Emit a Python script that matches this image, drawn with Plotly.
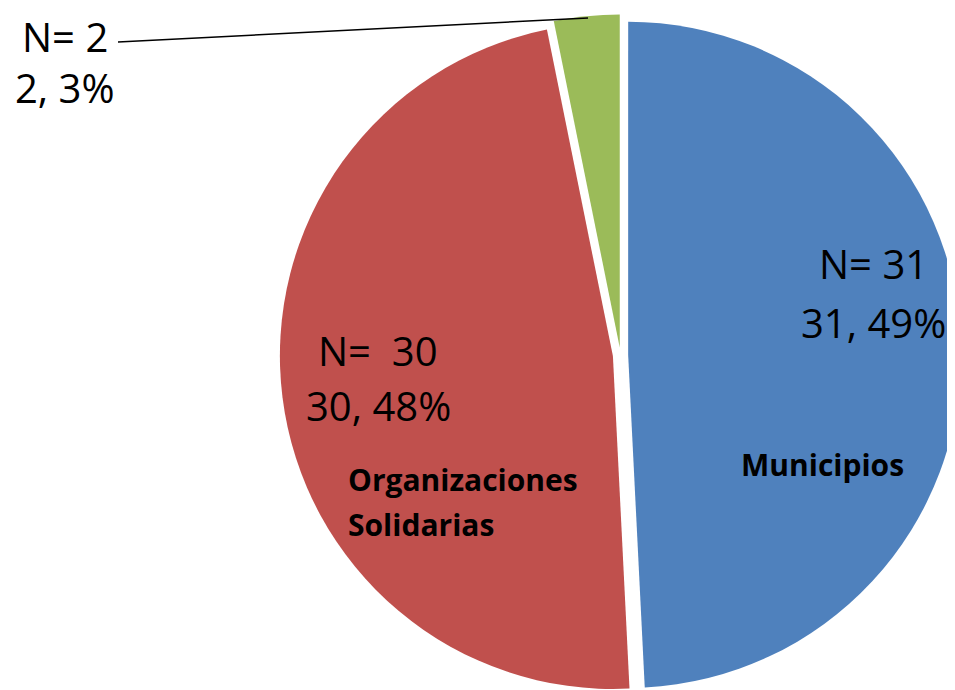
import plotly.graph_objects as go

categories = ["Municipios", "Organizaciones Solidarias", "Otros"]
values = [31, 30, 2]
colors = ["#4F81BD", "#C0504D", "#9BBB59"]
n_text = ["N= 31", "N=  30", "N= 2"]
value_text = ["31, 49%", "30, 48%", "2, 3%"]

# page body has an 8px default margin; figure is drawn from (8, 8)
OFF = 8
FW, FH = 980, 700

def px(x):
    return (x - OFF) / FW

def py(y):
    return 1 - (y - OFF) / FH

# pie geometry in screen pixels
cx, cy, r, pull = 620.5, 355.0, 333.0, 0.023
half = r * (1 + pull)

fig = go.Figure()
fig.add_trace(go.Pie(
    labels=categories,
    values=values,
    marker=dict(colors=colors, line=dict(width=0)),
    sort=False,
    direction="clockwise",
    rotation=0,
    pull=[pull] * len(values),
    textinfo="none",
    hoverinfo="label+value+percent",
    showlegend=False,
    domain=dict(x=[px(cx - half), px(cx + half)], y=[py(cy + half), py(cy - half)]),
))

big = dict(family="Open Sans, Noto Sans, sans-serif", size=40, color="#000000")
bold = dict(family="Open Sans, Noto Sans, sans-serif", size=30, color="#000000")

label_pos = [
    ((873, 264), (873, 322)),
    ((378, 350), (378, 405)),
    ((65, 37), (65, 87)),
]
for (p1, p2), t1, t2 in zip(label_pos, n_text, value_text):
    fig.add_annotation(x=px(p1[0]), y=py(p1[1]), xref="paper", yref="paper",
                       text=t1, showarrow=False, font=big,
                       xanchor="center", yanchor="middle", borderpad=0)
    fig.add_annotation(x=px(p2[0]), y=py(p2[1]), xref="paper", yref="paper",
                       text=t2, showarrow=False, font=big,
                       xanchor="center", yanchor="middle", borderpad=0)

fig.add_annotation(x=px(822), y=py(464), xref="paper", yref="paper",
                   text="<b>Municipios</b>", showarrow=False, font=bold,
                   xanchor="center", yanchor="middle")
fig.add_annotation(x=px(346), y=py(479), xref="paper", yref="paper",
                   text="<b>Organizaciones</b>", showarrow=False, font=bold,
                   xanchor="left", yanchor="middle")
fig.add_annotation(x=px(346), y=py(524), xref="paper", yref="paper",
                   text="<b>Solidarias</b>", showarrow=False, font=bold,
                   xanchor="left", yanchor="middle")

# leader line for the small slice
fig.add_shape(type="line", xref="paper", yref="paper",
              x0=px(118), y0=py(42), x1=px(588), y1=py(18),
              line=dict(color="#000000", width=1.5))

fig.update_layout(
    width=FW, height=FH,
    margin=dict(l=0, r=0, t=0, b=0),
    paper_bgcolor="#FFFFFF",
    plot_bgcolor="#FFFFFF",
)

fig.write_html("out.html")
